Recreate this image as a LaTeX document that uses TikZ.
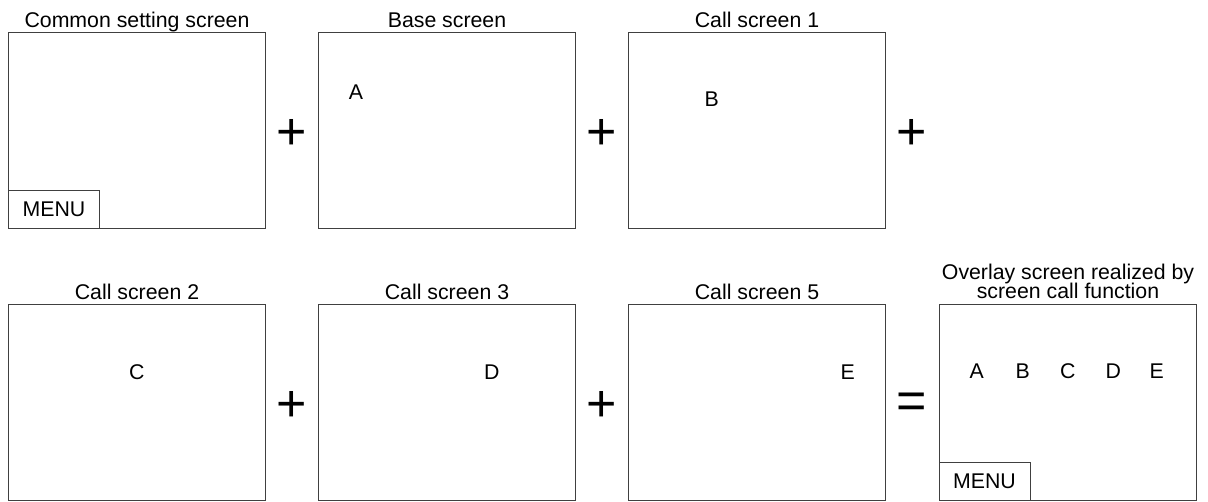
\documentclass[tikz,border=0pt]{standalone}
\usepackage{fontspec}
\setmainfont{Liberation Sans}
\begin{document}
\begin{tikzpicture}[x=1pt,y=-1pt,
  screen/.style={draw=black!75, line width=1pt, minimum width=257pt, minimum height=196pt, inner sep=0pt},
  menubox/.style={draw=black!75, line width=1pt, minimum width=91pt, minimum height=38pt, inner sep=0pt, anchor=south west, font=\fontsize{21.3}{24}\selectfont},
  caption/.style={anchor=base, inner sep=0pt, font=\fontsize{21.3}{24}\selectfont},
  letter/.style={inner sep=0pt, font=\fontsize{21.3}{24}\selectfont},
  op/.style={inner sep=0pt, font=\fontsize{52}{58}\selectfont}]
\useasboundingbox (0,0) rectangle (1208,501);

% top row of screens
\node[screen] (common) at (137,130.7) {};
\node[screen] (base)   at (447,130.7) {};
\node[screen] (call1)  at (757,130.7) {};
% bottom row of screens
\node[screen] (call2)   at (137,402) {};
\node[screen] (call3)   at (447,402) {};
\node[screen] (call5)   at (757,402) {};
\node[screen] (overlay) at (1067.5,402) {};

% titles
\node[caption] (tcommon) at (137,27.5) {Common setting screen};
\node[caption] (tbase)   at (447,27.5) {Base screen};
\node[caption] (tcall1)  at (757,27.5) {Call screen 1};
\node[caption] (tcall2)  at (137,299.5) {Call screen 2};
\node[caption] (tcall3)  at (447,299.5) {Call screen 3};
\node[caption] (tcall5)  at (757,299.5) {Call screen 5};
\node[caption] (tover1)  at (1068,279) {Overlay screen realized by};
\node[caption] (tover2)  at (1068,298) {screen call function};

% menu buttons
\node[menubox] (menu1) at (common.south west) {MENU};
\node[menubox] (menu2) at (overlay.south west) {MENU};

% screen contents
\node[letter] (la) at (356,91.7) {A};
\node[letter] (lb) at (711.7,99) {B};
\node[letter] (lc) at (136.7,371.7) {C};
\node[letter] (ld) at (491.7,371.7) {D};
\node[letter] (le) at (847.7,371.7) {E};
\node[letter] (oa) at (976.7,371) {A};
\node[letter] (ob) at (1022.7,371) {B};
\node[letter] (oc) at (1067.7,371) {C};
\node[letter] (od) at (1113.3,371) {D};
\node[letter] (oe) at (1156.7,371) {E};

% operators
\node[op] (p1) at (292,134) {+};
\node[op] (p2) at (602,134) {+};
\node[op] (p3) at (912,134) {+};
\node[op] (p4) at (292,406) {+};
\node[op] (p5) at (602,406) {+};
\node[op] (eq) at (912,406) {=};
\end{tikzpicture}
\end{document}
